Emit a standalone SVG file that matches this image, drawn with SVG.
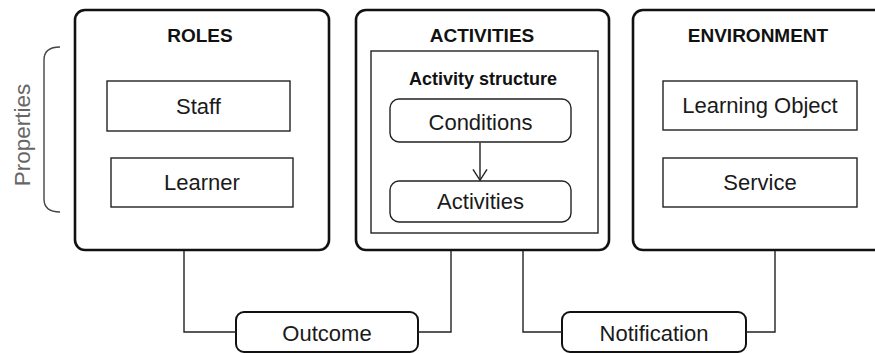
<svg xmlns="http://www.w3.org/2000/svg" width="875" height="353" viewBox="0 0 875 353">
  <style>
    .frame { fill: #fff; stroke: #111; stroke-width: 2.6; }
    .item { fill: #fff; stroke: #222; stroke-width: 1.4; }
    .pill { fill: #fff; stroke: #222; stroke-width: 1.4; }
    .tag { fill: #fff; stroke: #111; stroke-width: 2; }
    .wire { fill: none; stroke: #222; stroke-width: 1.4; }
    .title { font-family: "Liberation Sans", Arial, sans-serif; font-weight: bold; font-size: 19px; fill: #111; text-anchor: middle; }
    .sub { font-family: "Liberation Sans", Arial, sans-serif; font-weight: bold; font-size: 18px; fill: #111; text-anchor: middle; }
    .label { font-family: "Liberation Sans", Arial, sans-serif; font-size: 22px; fill: #1a1a1a; text-anchor: middle; }
    .side { font-family: "Liberation Sans", Arial, sans-serif; font-size: 22.5px; fill: #666; text-anchor: middle; }
  </style>
  <defs>
    <!-- open V head for the condition → activities flow -->
    <marker id="vee" viewBox="0 0 14 16" refX="12" refY="8" markerWidth="14" markerHeight="16" markerUnits="userSpaceOnUse" orient="auto">
      <path d="M1,1 L12,8 L1,15" fill="none" stroke="#222" stroke-width="1.4"/>
    </marker>
  </defs>

  <!-- side bracket grouping the role/activity/environment properties -->
  <g id="properties">
    <path d="M60,47 Q44,47 44,60 L44,199 Q44,212 60,212" fill="none" stroke="#444" stroke-width="1.4"/>
    <text class="side" transform="translate(30,135) rotate(-90)">Properties</text>
  </g>

  <g id="roles">
    <rect class="frame" x="75" y="10" width="254" height="240" rx="10"/>
    <text class="title" x="200" y="42">ROLES</text>
    <g id="staff">
      <rect class="item" x="107" y="81" width="183" height="50"/>
      <text class="label" x="198.5" y="114">Staff</text>
    </g>
    <g id="learner">
      <rect class="item" x="111" y="158" width="182" height="49"/>
      <text class="label" x="202" y="190">Learner</text>
    </g>
  </g>

  <g id="activities">
    <rect class="frame" x="356" y="10" width="253" height="240" rx="10"/>
    <text class="title" x="482" y="42">ACTIVITIES</text>
    <g id="activity-structure">
      <rect class="item" x="371" y="51" width="227" height="182"/>
      <text class="sub" x="483" y="85">Activity structure</text>
    </g>
    <g id="conditions">
      <rect class="pill" x="390" y="99" width="181" height="43" rx="9"/>
      <text class="label" x="480.5" y="130">Conditions</text>
    </g>
    <g id="activities-inner">
      <rect class="pill" x="390" y="181" width="181" height="41" rx="9"/>
      <text class="label" x="480.5" y="209">Activities</text>
    </g>
  </g>

  <g id="environment">
    <rect class="frame" x="633" y="10" width="270" height="240" rx="10"/>
    <text class="title" x="758" y="42">ENVIRONMENT</text>
    <g id="learning-object">
      <rect class="item" x="663" y="81" width="194" height="49"/>
      <text class="label" x="760" y="113">Learning Object</text>
    </g>
    <g id="service">
      <rect class="item" x="663" y="158" width="194" height="49"/>
      <text class="label" x="760" y="190">Service</text>
    </g>
  </g>

  <g id="outcome">
    <rect class="tag" x="236" y="312" width="182" height="40" rx="8"/>
    <text class="label" x="327" y="341">Outcome</text>
  </g>

  <g id="notification">
    <rect class="tag" x="562" y="312" width="184" height="40" rx="8"/>
    <text class="label" x="654" y="341">Notification</text>
  </g>

  <g id="connectors">
    <path class="wire" d="M184,251 V332 H236"/>
    <path class="wire" d="M418,332 H451 V251"/>
    <path class="wire" d="M523,251 V332 H562"/>
    <path class="wire" d="M746,332 H775 V251"/>
    <path class="wire" d="M480,142.7 V180.3" marker-end="url(#vee)"/>
  </g>
</svg>
